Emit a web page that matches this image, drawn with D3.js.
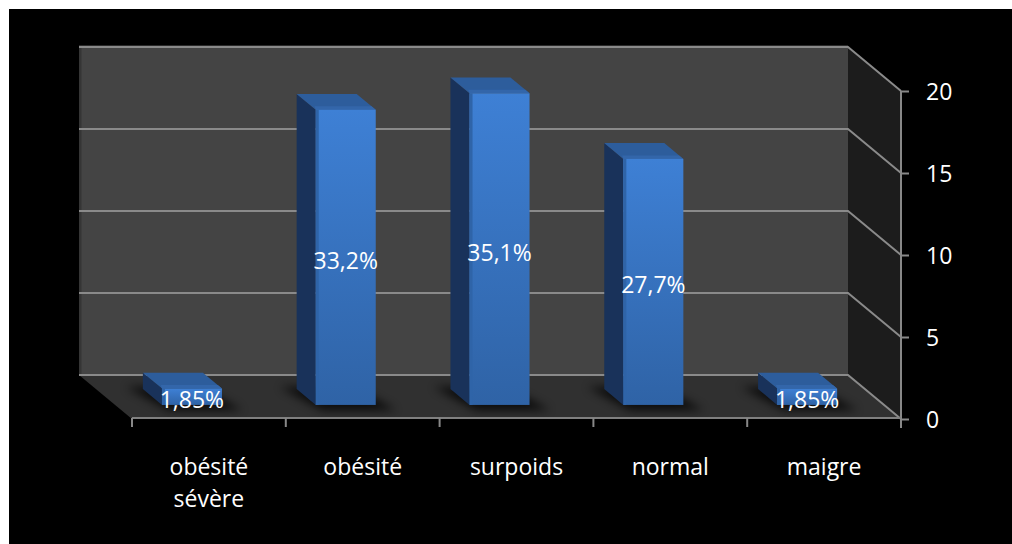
<!DOCTYPE html>
<html><head><meta charset="utf-8">
<script src="https://cdn.jsdelivr.net/npm/d3@7"></script>
<style>html,body{margin:0;padding:0;background:#fff;}svg{display:block;}</style>
</head><body>
<script>
const categories = ["obésité sévère", "obésité", "surpoids", "normal", "maigre"];
const values = [1, 18, 19, 15, 1];
const dataLabels = ["1,85%", "33,2%", "35,1%", "27,7%", "1,85%"];
const yTicks = [0, 5, 10, 15, 20];

const W = 1012, H = 544;
const DX = 53, DY = 44;          // depth offset back -> front
const D0 = 0.32, D1 = 0.68;      // bar depth range
const FONT = "'Open Sans', sans-serif";

const svg = d3.select("body").append("svg").attr("width", W).attr("height", H);
const defs = svg.append("defs");
const grad = defs.append("linearGradient").attr("id", "frontGrad").attr("x1", 0).attr("y1", 0).attr("x2", 0).attr("y2", 1);
grad.append("stop").attr("offset", "0%").attr("stop-color", "#3e80d5");
grad.append("stop").attr("offset", "100%").attr("stop-color", "#2f63a6");
const flt = defs.append("filter").attr("id", "shadow").attr("x", "-50%").attr("y", "-50%").attr("width", "200%").attr("height", "200%");
flt.append("feGaussianBlur").attr("stdDeviation", 5);

// background
svg.append("rect").attr("x", 0).attr("y", 0).attr("width", W).attr("height", H).attr("fill", "#fff");
svg.append("rect").attr("x", 9).attr("y", 9).attr("width", W - 9).attr("height", H - 9).attr("fill", "#000");

const y = d3.scaleLinear().domain([0, 20]).range([375, 47]);          // back plane
const yFront = d3.scaleLinear().domain([0, 20]).range([375 + DY, 47 + DY]);
const x = d3.scaleBand().domain(categories).range([79, 848]);          // back plane
const xFront = d3.scaleBand().domain(categories).range([79 + DX, 848 + DX]);

const x0 = 79, x1 = 848, yTop = y(20), yBase = y(0);
const pts = a => a.map(p => p.join(",")).join(" ");

// back wall
svg.append("polygon").attr("points", pts([[x0, yTop], [x1, yTop], [x1, yBase], [x0, yBase]])).attr("fill", "#444444");
svg.append("rect").attr("x", x0).attr("y", yTop).attr("width", 2.5).attr("height", yBase - yTop).attr("fill", "#353535");
svg.append("rect").attr("x", x0).attr("y", yTop - 2).attr("width", x1 - x0).attr("height", 2).attr("fill", "#2a2a2a");
// side wall
svg.append("polygon").attr("points", pts([[x1, yTop], [x1 + DX, yTop + DY], [x1 + DX, yBase + DY], [x1, yBase]])).attr("fill", "#1c1c1c");
// floor
svg.append("polygon").attr("points", pts([[x0, yBase], [x1, yBase], [x1 + DX, yBase + DY], [x0 + DX, yBase + DY]])).attr("fill", "#303030");

// gridlines
svg.append("g").selectAll("polyline").data(yTicks).join("polyline")
  .attr("points", d => pts([[x0, y(d)], [x1, y(d)], [x1 + DX, y(d) + DY]]))
  .attr("fill", "none").attr("stroke", "#8a8a8a").attr("stroke-width", 2);

// bar shadows
const bw = 60;
const barG = svg.append("g");
categories.forEach((c, i) => {
  const cx = x(c) + x.bandwidth() / 2;
  const l = cx - bw / 2, r = cx + bw / 2;
  const p = (xx, v, d) => [xx + DX * d, y(v) + DY * d];
  barG.append("polygon")
    .attr("points", pts([p(l - 14, 0, D0 - 0.05), p(r, 0, D0 - 0.05), p(r + 14, 0, D1 + 0.12), p(l, 0, D1 + 0.12)]))
    .attr("fill", "#000").attr("opacity", 0.75).attr("filter", "url(#shadow)");
});

// bars
categories.forEach((c, i) => {
  const v = values[i];
  const cx = x(c) + x.bandwidth() / 2;
  const l = cx - bw / 2, r = cx + bw / 2;
  const p = (xx, vv, d) => [xx + DX * d, y(vv) + DY * d];
  const g = barG.append("g");
  // left face
  g.append("polygon").attr("points", pts([p(l, v, D0), p(l, v, D1), p(l, 0, D1), p(l, 0, D0)])).attr("fill", "#19325a");
  // top face
  g.append("polygon").attr("points", pts([p(l, v, D0), p(r, v, D0), p(r, v, D1), p(l, v, D1)])).attr("fill", "#2d5d9c");
  // top bevel toward front
  g.append("polygon").attr("points", pts([p(l + 3, v, D1 - 0.08), p(r, v, D1 - 0.08), p(r, v, D1), p(l, v, D1)])).attr("fill", "#3366aa");
  // front face
  const f0 = p(l, v, D1), f1 = p(r, 0, D1);
  g.append("rect").attr("x", f0[0]).attr("y", f0[1]).attr("width", f1[0] - f0[0]).attr("height", f1[1] - f0[1])
    .attr("fill", "url(#frontGrad)");
  g.append("rect").attr("x", f0[0]).attr("y", f0[1]).attr("width", 3).attr("height", f1[1] - f0[1])
    .attr("fill", "#2f64a8");
});

// data labels
svg.append("g").selectAll("text").data(categories).join("text")
  .attr("x", (c) => x(c) + x.bandwidth() / 2 + DX * D1)
  .attr("y", (c, i) => (y(values[i]) + y(0)) / 2 + DY * D1 + 11.5)
  .attr("text-anchor", "middle").attr("fill", "#fff")
  .attr("font-family", FONT).attr("font-size", 23)
  .text((c, i) => dataLabels[i]);

// right axis
const axR = svg.append("g").attr("transform", `translate(${x1 + DX},0)`)
  .call(d3.axisRight(yFront).tickValues(yTicks).tickSize(8).tickPadding(17).tickSizeOuter(0));
axR.select(".domain").attr("stroke", "#888").attr("stroke-width", 2)
  .attr("d", `M0,${yFront(20)}V${yFront(0) + 9}`);
axR.selectAll(".tick line").attr("stroke", "#888").attr("stroke-width", 2);
axR.selectAll(".tick text").attr("fill", "#fff").attr("font-family", FONT).attr("font-size", 23).attr("dy", "0.36em");

// bottom axis
const yAx = yBase + DY - 1;
svg.append("line").attr("x1", x0 + DX).attr("x2", x1 + DX).attr("y1", yAx).attr("y2", yAx)
  .attr("stroke", "#808080").attr("stroke-width", 2);
const bounds = categories.map(c => xFront(c)).concat([xFront.range()[1]]);
svg.append("g").selectAll("line").data(bounds).join("line")
  .attr("x1", d => d).attr("x2", d => d).attr("y1", yAx).attr("y2", yAx + 9)
  .attr("stroke", "#888").attr("stroke-width", 2);

const catText = svg.append("g").selectAll("text").data(categories).join("text")
  .attr("x", c => xFront(c) + xFront.bandwidth() / 2).attr("y", 475)
  .attr("text-anchor", "middle").attr("fill", "#fff")
  .attr("font-family", FONT).attr("font-size", 23);
catText.each(function (c) {
  const parts = c === "obésité sévère" ? ["obésité", "sévère"] : [c];
  const t = d3.select(this);
  parts.forEach((s, k) => t.append("tspan").attr("x", xFront(c) + xFront.bandwidth() / 2).attr("dy", k ? 32 : 0).text(s));
});
</script>
</body></html>
